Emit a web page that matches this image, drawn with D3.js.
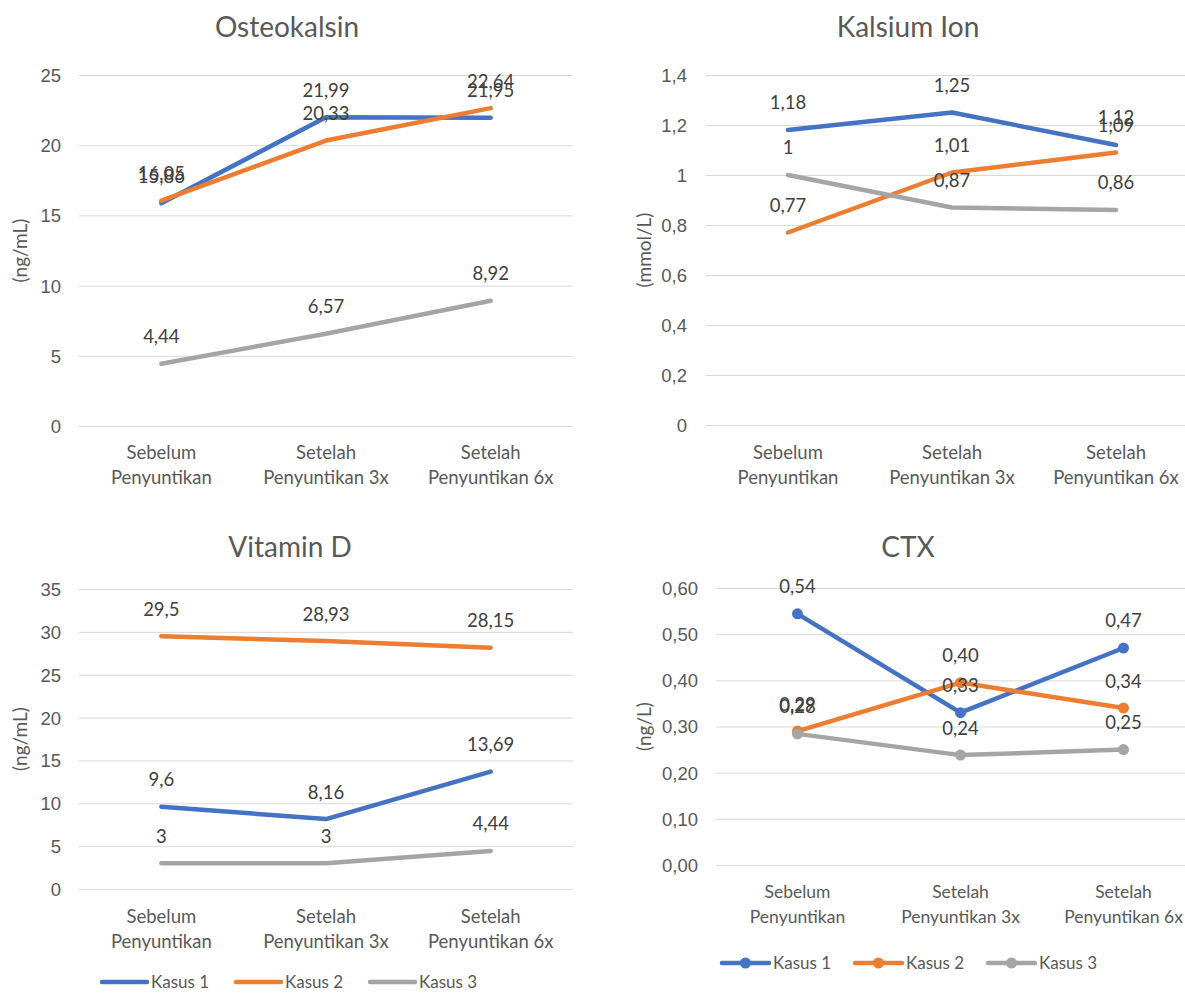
<!DOCTYPE html>
<html>
<head>
<meta charset="utf-8">
<script src="https://cdn.jsdelivr.net/npm/d3@7"></script>
<style>
  html, body { margin: 0; padding: 0; background: #fff; }
  svg { display: block; font-family: Lato, "Open Sans", sans-serif; }
  .grid line { stroke: #d9d9d9; stroke-width: 1; }
  .tick text { fill: #595959; font-size: 18.5px; }
  .title { fill: #595959; font-size: 28px; }
  .ytitle { fill: #595959; font-size: 19px; }
  .cat { fill: #595959; }
  .dlabel { fill: #404040; font-size: 18.5px; }
  .legend text { fill: #595959; font-size: 17px; }
</style>
</head>
<body>
<svg id="chart" width="1185" height="993"></svg>
<script>
// categories (two-line labels)
var categories = [["Sebelum", "Penyuntikan"], ["Setelah", "Penyuntikan 3x"], ["Setelah", "Penyuntikan 6x"]];
var seriesNames = ["Kasus 1", "Kasus 2", "Kasus 3"];
var seriesColors = ["#4472c4", "#ed7d31", "#a5a5a5"];

// Osteokalsin (ng/mL)
var osteoKasus1 = [15.86, 21.99, 21.95];
var osteoKasus2 = [16.05, 20.33, 22.64];
var osteoKasus3 = [4.44, 6.57, 8.92];
var osteoTicks = [0, 5, 10, 15, 20, 25];

// Kalsium Ion (mmol/L)
var kalsiumKasus1 = [1.18, 1.25, 1.12];
var kalsiumKasus2 = [0.77, 1.01, 1.09];
var kalsiumKasus3 = [1, 0.87, 0.86];
var kalsiumTicks = [0, 0.2, 0.4, 0.6, 0.8, 1, 1.2, 1.4];

// Vitamin D (ng/mL)
var vitdKasus1 = [9.6, 8.16, 13.69];
var vitdKasus2 = [29.5, 28.93, 28.15];
var vitdKasus3 = [3, 3, 4.44];
var vitdTicks = [0, 5, 10, 15, 20, 25, 30, 35];

// CTX (ng/L)
var ctxKasus1 = [0.544, 0.33, 0.47];
var ctxKasus2 = [0.29, 0.395, 0.34];
var ctxKasus3 = [0.284, 0.238, 0.25];
var ctxTicks = [0, 0.1, 0.2, 0.3, 0.4, 0.5, 0.6];

var comma = function (v) { return String(v).replace(".", ","); };
var comma2 = function (v) { return v.toFixed(2).replace(".", ","); };

var svg = d3.select("#chart");

function drawPanel(p) {
    var g = svg.append("g");
    var x = d3.scalePoint().domain([0, 1, 2]).range([p.x0, p.x1]).padding(0.5);
    var y = d3.scaleLinear().domain([0, p.ticks[p.ticks.length - 1]]).range([p.yBottom, p.yTop]);

    g.append("text").attr("class", "title")
        .attr("x", p.titleX).attr("y", p.titleY)
        .attr("text-anchor", "middle").text(p.title);

    var axis = d3.axisLeft(y).tickValues(p.ticks).tickFormat(p.tickFmt)
        .tickSize(-(p.x1 - p.x0)).tickPadding(p.pad);
    var ag = g.append("g").attr("class", "grid")
        .attr("transform", "translate(" + p.x0 + ",0)").call(axis);
    ag.select(".domain").remove();
    ag.selectAll(".tick text").attr("dy", "0.35em");

    g.append("text").attr("class", "ytitle")
        .attr("transform", "translate(" + p.yTitleX + "," + ((p.yTop + p.yBottom) / 2) + ") rotate(-90)")
        .attr("text-anchor", "middle").attr("dy", "0.35em").text(p.unit);

    categories.forEach(function (c, i) {
        var t = g.append("text").attr("class", "cat").attr("text-anchor", "middle")
            .style("font-size", p.catSize + "px");
        t.append("tspan").attr("x", x(i)).attr("y", p.catY).text(c[0]);
        t.append("tspan").attr("x", x(i)).attr("y", p.catY + 24.5).text(c[1]);
    });

    var line = d3.line().x(function (d, i) { return x(i); }).y(function (d) { return y(d); });
    p.series.forEach(function (s, k) {
        g.append("path").attr("d", line(s))
            .attr("fill", "none").attr("stroke", seriesColors[k])
            .attr("stroke-width", 4.5).attr("stroke-linecap", "round").attr("stroke-linejoin", "round");
        if (p.markers) {
            g.selectAll(null).data(s).enter().append("circle")
                .attr("cx", function (d, i) { return x(i); })
                .attr("cy", function (d) { return y(d); })
                .attr("r", 5.5).attr("fill", seriesColors[k]);
        }
    });
    p.series.forEach(function (s, k) {
        g.selectAll(null).data(s).enter().append("text").attr("class", "dlabel")
            .attr("x", function (d, i) { return x(i); })
            .attr("y", function (d) { return y(d) - 27; })
            .attr("dy", "0.35em").attr("text-anchor", "middle")
            .text(p.labelFmt);
    });
}

function drawLegend(lx, ly, lineW, step, markers) {
    var lg = svg.append("g").attr("class", "legend");
    seriesNames.forEach(function (n, k) {
        var cx = lx + k * step;
        lg.append("line").attr("x1", cx).attr("x2", cx + lineW).attr("y1", ly).attr("y2", ly)
            .attr("stroke", seriesColors[k]).attr("stroke-width", 4.5).attr("stroke-linecap", "round");
        if (markers) {
            lg.append("circle").attr("cx", cx + lineW / 2).attr("cy", ly).attr("r", 5.5).attr("fill", seriesColors[k]);
        }
        lg.append("text").attr("x", cx + lineW + 4).attr("y", ly).attr("dy", "0.35em").text(n);
    });
}

drawPanel({
    title: "Osteokalsin", titleX: 287, titleY: 37, unit: "(ng/mL)", yTitleX: 20,
    x0: 79, x1: 573, yTop: 75, yBottom: 426, pad: 18, catY: 459, catSize: 18.5,
    ticks: osteoTicks, tickFmt: comma, labelFmt: comma,
    series: [osteoKasus1, osteoKasus2, osteoKasus3], markers: false
});
drawPanel({
    title: "Kalsium Ion", titleX: 908, titleY: 37, unit: "(mmol/L)", yTitleX: 644,
    x0: 706, x1: 1198, yTop: 75, yBottom: 425, pad: 19, catY: 459, catSize: 18.5,
    ticks: kalsiumTicks, tickFmt: comma, labelFmt: comma,
    series: [kalsiumKasus1, kalsiumKasus2, kalsiumKasus3], markers: false
});
drawPanel({
    title: "Vitamin D", titleX: 290, titleY: 557, unit: "(ng/mL)", yTitleX: 20,
    x0: 79, x1: 573, yTop: 589, yBottom: 889, pad: 18, catY: 923, catSize: 18.5,
    ticks: vitdTicks, tickFmt: comma, labelFmt: comma,
    series: [vitdKasus1, vitdKasus2, vitdKasus3], markers: false
});
drawPanel({
    title: "CTX", titleX: 908, titleY: 557, unit: "(ng/L)", yTitleX: 644,
    x0: 716, x1: 1205, yTop: 588, yBottom: 865, pad: 18, catY: 898, catSize: 17.5,
    ticks: ctxTicks, tickFmt: comma2, labelFmt: comma2,
    series: [ctxKasus1, ctxKasus2, ctxKasus3], markers: true
});

drawLegend(102, 982, 45, 134, false);
drawLegend(722, 963, 47, 133, true);
</script>
</body>
</html>
